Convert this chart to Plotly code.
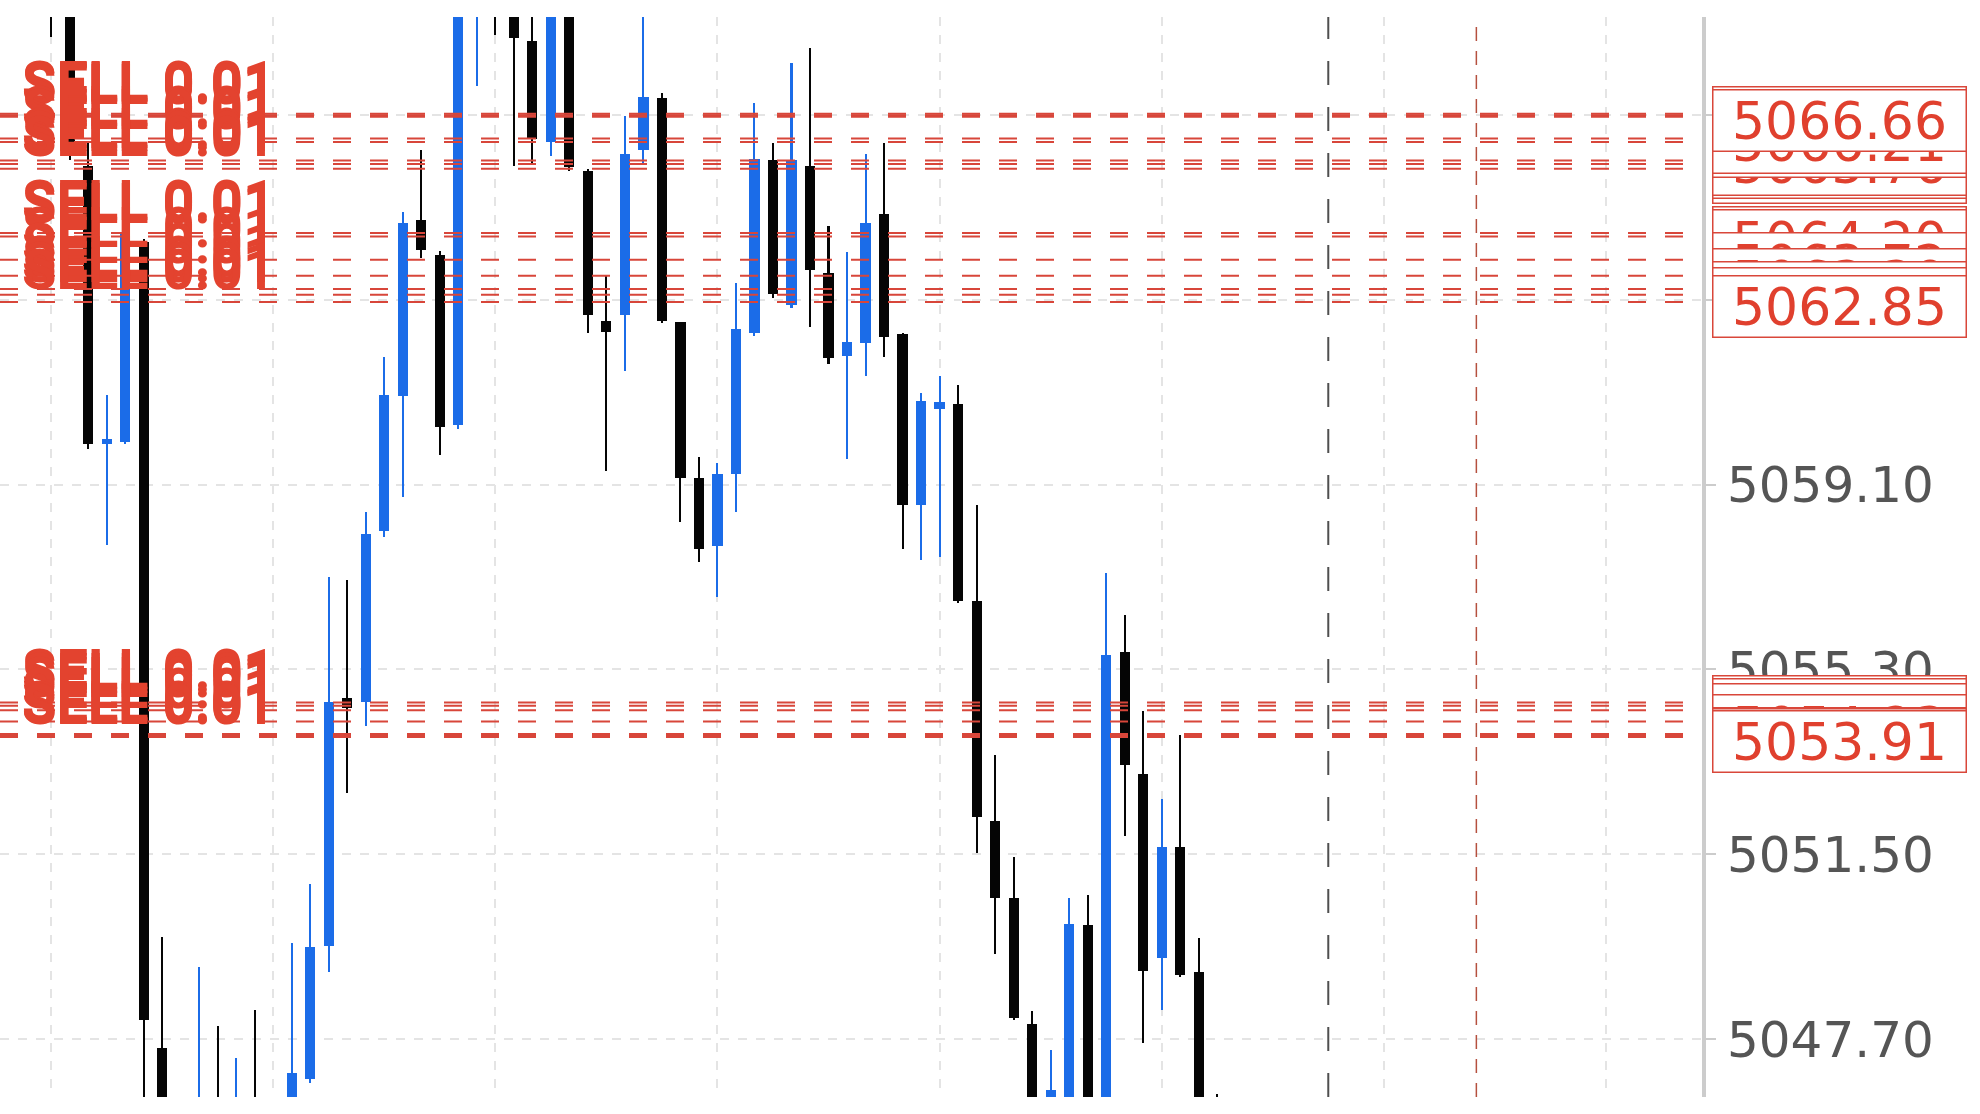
import plotly.graph_objects as go

# ---- candle data ----
idx = list(range(64))
opens = [5069.85, 5069.33, 5065.64, 5059.93, 5059.98, 5064.08, 5047.52, 5045.96, 5045.70, 5046.22,
         5045.83, 5046.27, 5046.09, 5045.96, 5046.87, 5049.62, 5054.71, 5054.63, 5058.14, 5060.92,
         5064.53, 5063.82, 5060.32, 5069.33, 5069.85, 5069.33, 5068.21, 5066.14, 5069.33, 5065.54,
         5062.47, 5062.58, 5065.98, 5067.04, 5062.45, 5059.23, 5057.83, 5059.31, 5062.21, 5065.77,
         5062.79, 5065.64, 5063.44, 5061.75, 5062.01, 5064.66, 5062.19, 5058.68, 5060.66, 5060.76,
         5056.71, 5052.19, 5050.61, 5048.01, 5046.22, 5045.96, 5050.04, 5045.96, 5055.65, 5053.15,
         5049.36, 5051.65, 5049.08, 5046.22]
highs = [5070.11, 5069.59, 5066.14, 5060.94, 5064.32, 5064.14, 5049.80, 5046.09, 5049.18, 5047.96,
         5047.31, 5048.30, 5046.09, 5049.67, 5050.89, 5057.20, 5057.13, 5058.53, 5061.72, 5064.71,
         5065.98, 5063.90, 5069.59, 5070.11, 5070.11, 5069.59, 5068.81, 5069.59, 5069.59, 5065.59,
         5063.41, 5066.68, 5068.81, 5067.15, 5062.45, 5059.67, 5059.54, 5063.25, 5066.94, 5066.11,
         5067.77, 5068.08, 5064.42, 5063.88, 5065.90, 5066.11, 5062.21, 5060.99, 5061.33, 5061.15,
         5058.68, 5053.54, 5051.44, 5048.27, 5047.47, 5050.61, 5050.66, 5057.28, 5056.42, 5054.45,
         5052.63, 5053.96, 5049.78, 5046.58]
lows = [5068.29, 5065.77, 5059.83, 5057.85, 5059.93, 5046.22, 5045.44, 5045.44, 5045.44, 5045.57,
        5045.57, 5045.44, 5045.44, 5045.70, 5046.79, 5049.08, 5052.76, 5054.14, 5058.03, 5058.84,
        5063.75, 5059.70, 5060.24, 5067.30, 5068.34, 5065.64, 5065.67, 5065.85, 5065.54, 5062.21,
        5059.38, 5061.44, 5065.69, 5062.42, 5058.32, 5057.51, 5056.79, 5058.53, 5062.16, 5062.94,
        5062.73, 5062.34, 5061.57, 5059.62, 5061.33, 5061.72, 5057.77, 5057.54, 5057.62, 5056.66,
        5051.52, 5049.44, 5048.09, 5045.70, 5045.70, 5045.70, 5045.70, 5045.70, 5051.88, 5047.62,
        5048.30, 5048.97, 5045.70, 5045.70]
closes = [5069.20, 5065.85, 5059.93, 5060.03, 5064.29, 5048.09, 5045.70, 5045.70, 5046.22, 5045.83,
          5046.35, 5045.70, 5045.70, 5047.00, 5049.60, 5054.63, 5054.50, 5058.09, 5060.94, 5064.47,
          5063.93, 5060.29, 5069.33, 5069.85, 5069.46, 5068.27, 5066.21, 5069.33, 5065.62, 5062.58,
          5062.24, 5065.90, 5067.07, 5062.47, 5059.23, 5057.77, 5059.31, 5062.29, 5065.80, 5063.02,
          5065.77, 5063.51, 5061.70, 5062.03, 5064.47, 5062.14, 5058.68, 5060.81, 5060.79, 5056.71,
          5052.27, 5050.61, 5048.14, 5045.96, 5046.66, 5050.06, 5045.96, 5055.59, 5053.33, 5049.10,
          5051.65, 5049.02, 5045.96, 5045.96]

# ---- pending SELL orders (three clusters) ----
sell_top = [5066.72, 5066.69, 5066.66, 5066.21, 5066.14, 5065.76, 5065.69, 5065.59]
sell_mid = [5064.27, 5064.20, 5063.72, 5063.39, 5063.12, 5063.00, 5062.85]
sell_low = [5054.62, 5054.55, 5054.46, 5054.23, 5053.97, 5053.94, 5053.91]
sell_text = "SELL 0.01"
front_labels = [5066.66, 5062.85, 5053.91]

# ---- axes ----
y_ticks = [5047.70, 5051.50, 5055.30, 5059.10, 5062.90, 5066.70]
y_range = [5046.51, 5068.71]
x_range = [-2.76, 89.19]
vline_dark = 69
vline_red = 77

BLUE = "#1b6ce8"
BLACK = "#050505"
RED = "#e3432f"

sell_prices = sell_top + sell_mid + sell_low

colors = [BLUE if c > o else BLACK for o, c in zip(opens, closes)]
body_base = [min(o, c) for o, c in zip(opens, closes)]
body_len = [abs(c - o) for o, c in zip(opens, closes)]
wick_len = [h - l for h, l in zip(highs, lows)]

fig = go.Figure()
fig.add_trace(go.Bar(x=idx, y=wick_len, base=lows, width=0.11,
                     marker=dict(color=colors, line=dict(width=0)), hoverinfo="skip"))
fig.add_trace(go.Bar(x=idx, y=body_len, base=body_base, width=0.55,
                     marker=dict(color=colors, line=dict(width=0)), hoverinfo="skip"))

shapes = []
shapes.append(dict(type="line", xref="x", x0=vline_dark, x1=vline_dark, yref="paper", y0=0, y1=1,
                   line=dict(color="#4f4f4f", width=2, dash="24px,22px"), layer="above"))
shapes.append(dict(type="line", xref="x", x0=vline_red, x1=vline_red, yref="paper", y0=0, y1=1,
                   line=dict(color="#b5503f", width=1.5, dash="14px,10px"), layer="above"))
for p in sell_prices:
    shapes.append(dict(type="line", xref="paper", x0=0, x1=1, yref="y", y0=p, y1=p,
                       line=dict(color="#d8463a", width=2, dash="18px,19px"), layer="above"))

annotations = []
for p in sell_prices:
    annotations.append(dict(xref="paper", x=0.0118, xanchor="left", yref="y", y=p,
                            yanchor="middle", yshift=32, text=sell_text, showarrow=False,
                            font=dict(family="Roboto", size=56, color=RED, weight="bold")))

# stacking order of the price boxes on the right
order = (sorted([p for p in sell_top if p not in front_labels])
         + [p for p in sell_mid if p not in front_labels]
         + [p for p in sell_low if p not in front_labels]
         + front_labels)
for p in order:
    annotations.append(dict(xref="paper", x=1, xanchor="left", xshift=10, yref="y", y=p,
                            yanchor="middle", yshift=-4, text=f"{p:.2f}", showarrow=False,
                            font=dict(family="DejaVu Sans", size=52, color="#e0402e"),
                            bgcolor="white", bordercolor="#d9473a", borderwidth=1.5,
                            borderpad=3, width=246, height=54, align="center"))

fig.update_layout(width=1980, height=1114, margin=dict(l=0, r=278, t=17, b=17),
                  paper_bgcolor="white", plot_bgcolor="white", showlegend=False,
                  barmode="overlay", bargap=0, shapes=shapes, annotations=annotations)
fig.update_xaxes(range=x_range, tick0=0, dtick=12, showgrid=True, gridcolor="#e4e4e4",
                 griddash="dash", gridwidth=1.5, showticklabels=False, zeroline=False,
                 ticks="", showline=False)
fig.update_yaxes(range=y_range, side="right", tickvals=y_ticks, tickformat=".2f",
                 showgrid=True, gridcolor="#e4e4e4", griddash="dash", gridwidth=1.5,
                 showline=True, linecolor="#cccccc", linewidth=4, ticks="outside",
                 ticklen=10, tickwidth=2, tickcolor="#cccccc", zeroline=False,
                 tickfont=dict(family="DejaVu Sans", size=50, color="#555555"),
                 ticklabelstandoff=1)

fig.write_html("out.html", config={"displayModeBar": False},
               post_script="document.body.style.margin='0';document.body.style.overflow='hidden';")
